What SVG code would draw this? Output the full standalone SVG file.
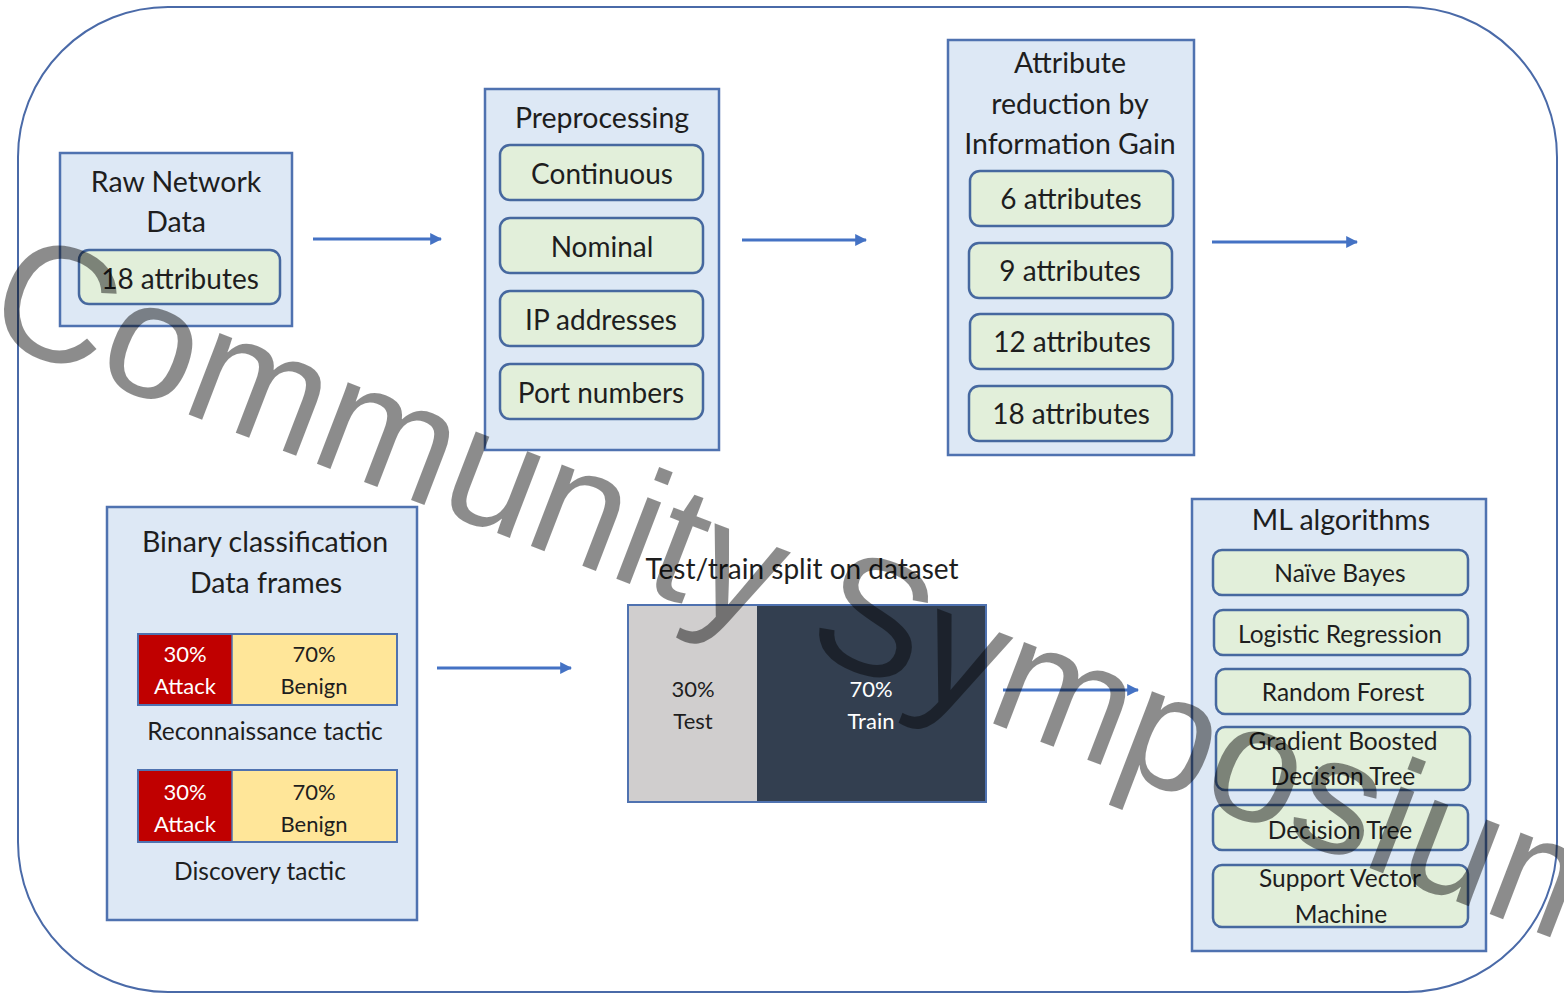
<svg xmlns="http://www.w3.org/2000/svg" width="1564" height="994" viewBox="0 0 1564 994">
<defs>
<marker id="ah" viewBox="0 0 10 10" refX="9" refY="5" markerWidth="4" markerHeight="4" orient="auto" markerUnits="strokeWidth">
<path d="M0,0 L10,5 L0,10 z" fill="#4472c4"/>
</marker>
<style>
.outer{fill:#fff;stroke:#4a6aa8;stroke-width:2}
.box{fill:#dde8f5;stroke:#4f72b0;stroke-width:2.5}
.item{fill:#e2efda;stroke:#46689f;stroke-width:2.5}
.t{font-family:Lato,"Open Sans",sans-serif;fill:#1e1e1e;text-anchor:middle}
.h{font-size:28.5px}
.i{font-size:28px}
.s{font-size:24.5px}
.b{font-size:22px}
.w{fill:#fff}
.conn{stroke:#4472c4;stroke-width:3;fill:none;marker-end:url(#ah)}
.wm{font-family:"Liberation Sans",Arial,sans-serif;font-size:165px;fill:#000;fill-opacity:0.45}
</style>
</defs>
<rect class="outer" x="18" y="7" width="1539" height="985" rx="150" ry="150"/>

<g id="raw">
<rect class="box" x="60" y="153" width="232" height="173"/>
<text class="t h" x="176" y="192">Raw Network</text>
<text class="t h" x="176" y="232">Data</text>
<rect class="item" x="79" y="250" width="201" height="54" rx="10"/>
<text class="t i" x="180" y="289">18 attributes</text>
</g>

<g id="preprocessing">
<rect class="box" x="485" y="89" width="234" height="361"/>
<text class="t h" x="602" y="128">Preprocessing</text>
<rect class="item" x="500" y="145" width="203" height="55" rx="10"/>
<text class="t i" x="602" y="184">Continuous</text>
<rect class="item" x="500" y="218" width="203" height="55" rx="10"/>
<text class="t i" x="602" y="257">Nominal</text>
<rect class="item" x="500" y="291" width="203" height="55" rx="10"/>
<text class="t i" x="601" y="330">IP addresses</text>
<rect class="item" x="500" y="364" width="203" height="55" rx="10"/>
<text class="t i" x="601" y="403">Port numbers</text>
</g>

<g id="attr">
<rect class="box" x="948" y="40" width="246" height="415"/>
<text class="t h" x="1070" y="73">Attribute</text>
<text class="t h" x="1070" y="114">reduction by</text>
<text class="t h" x="1070" y="154">Information Gain</text>
<rect class="item" x="970" y="171" width="203" height="55" rx="10"/>
<text class="t i" x="1071" y="209">6 attributes</text>
<rect class="item" x="969" y="243" width="203" height="55" rx="10"/>
<text class="t i" x="1070" y="281">9 attributes</text>
<rect class="item" x="970" y="314" width="203" height="55" rx="10"/>
<text class="t i" x="1072" y="352">12 attributes</text>
<rect class="item" x="969" y="386" width="203" height="55" rx="10"/>
<text class="t i" x="1071" y="424">18 attributes</text>
</g>

<g id="binary">
<rect class="box" x="107" y="507" width="310" height="413"/>
<text class="t h" x="265" y="552">Binary classification</text>
<text class="t h" x="266" y="593">Data frames</text>
<rect x="138" y="634" width="94" height="71" fill="#c00000"/>
<rect x="232" y="634" width="165" height="71" fill="#ffe699"/>
<rect x="138" y="634" width="259" height="71" fill="none" stroke="#4f72b0" stroke-width="2"/>
<line x1="232" y1="634" x2="232" y2="705" stroke="#4f72b0" stroke-width="1.5"/>
<text class="t b w" x="185" y="662">30%</text>
<text class="t b w" x="185" y="694">Attack</text>
<text class="t b" x="314" y="662">70%</text>
<text class="t b" x="314" y="694">Benign</text>
<text class="t s" x="265" y="740">Reconnaissance tactic</text>
<rect x="138" y="770" width="94" height="72" fill="#c00000"/>
<rect x="232" y="770" width="165" height="72" fill="#ffe699"/>
<rect x="138" y="770" width="259" height="72" fill="none" stroke="#4f72b0" stroke-width="2"/>
<line x1="232" y1="770" x2="232" y2="842" stroke="#4f72b0" stroke-width="1.5"/>
<text class="t b w" x="185" y="800">30%</text>
<text class="t b w" x="185" y="832">Attack</text>
<text class="t b" x="314" y="800">70%</text>
<text class="t b" x="314" y="832">Benign</text>
<text class="t s" x="260" y="880">Discovery tactic</text>
</g>

<g id="split">
<text class="t i" x="802" y="579">Test/train split on dataset</text>
<rect x="628" y="605" width="129" height="197" fill="#d0cece"/>
<rect x="757" y="605" width="229" height="197" fill="#333f50"/>
<rect x="628" y="605" width="358" height="197" fill="none" stroke="#4f72b0" stroke-width="2"/>
<text class="t b" x="693" y="697">30%</text>
<text class="t b" x="693" y="729">Test</text>
<text class="t b w" x="871" y="697">70%</text>
<text class="t b w" x="871" y="729">Train</text>
</g>

<g id="ml">
<rect class="box" x="1192" y="499" width="294" height="452"/>
<text class="t h" x="1341" y="530">ML algorithms</text>
<rect class="item" x="1213" y="550" width="255" height="45" rx="9"/>
<text class="t s" x="1340" y="582">Naïve Bayes</text>
<rect class="item" x="1214" y="610" width="254" height="45" rx="9"/>
<text class="t s" x="1340" y="643">Logistic Regression</text>
<rect class="item" x="1216" y="669" width="254" height="45" rx="9"/>
<text class="t s" x="1343" y="701">Random Forest</text>
<rect class="item" x="1216" y="727" width="254" height="63" rx="9"/>
<text class="t s" x="1343" y="750">Gradient Boosted</text>
<text class="t s" x="1343" y="785">Decision Tree</text>
<rect class="item" x="1213" y="805" width="255" height="45" rx="9"/>
<text class="t s" x="1340" y="839">Decision Tree</text>
<rect class="item" x="1213" y="865" width="255" height="62" rx="9"/>
<text class="t s" x="1340" y="887">Support Vector</text>
<text class="t s" x="1341" y="923">Machine</text>
</g>

<g id="connectors">
<line class="conn" x1="313" y1="239" x2="441" y2="239"/>
<line class="conn" x1="742" y1="240" x2="866" y2="240"/>
<line class="conn" x1="1212" y1="242" x2="1357" y2="242"/>
<line class="conn" x1="437" y1="668" x2="571" y2="668"/>
<line class="conn" x1="1003" y1="690" x2="1138" y2="690"/>
</g>

<text class="wm" x="-19" y="335" transform="rotate(21 -19 335)">Community Symposium</text>
</svg>
